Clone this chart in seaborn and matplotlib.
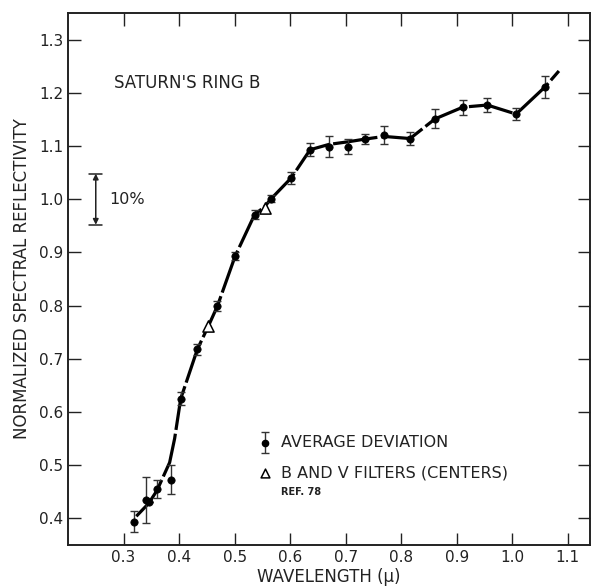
import matplotlib
matplotlib.use("Agg")
import matplotlib.pyplot as plt
import seaborn as sns
import pandas as pd

# ---- data ----
pts_x = [0.318, 0.340, 0.346, 0.360, 0.385, 0.403, 0.433, 0.469, 0.501, 0.536,
         0.566, 0.602, 0.636, 0.670, 0.705, 0.735, 0.769, 0.816, 0.861, 0.911,
         0.955, 1.007, 1.059]
pts_y = [0.394, 0.434, 0.430, 0.456, 0.473, 0.625, 0.718, 0.799, 0.893, 0.971,
         1.001, 1.040, 1.093, 1.099, 1.099, 1.113, 1.121, 1.114, 1.151, 1.173,
         1.177, 1.160, 1.211]
pts_err = [0.020, 0.043, 0.0, 0.017, 0.027, 0.012, 0.010, 0.009, 0.008, 0.008,
           0.006, 0.012, 0.012, 0.020, 0.014, 0.010, 0.017, 0.012, 0.018, 0.014,
           0.013, 0.012, 0.020]

filter_x = [0.453, 0.554]
filter_y = [0.761, 0.984]

curve_x = [0.323, 0.345, 0.360, 0.383, 0.392, 0.403, 0.433, 0.453, 0.469, 0.501,
           0.536, 0.554, 0.566, 0.602, 0.636, 0.670, 0.705, 0.735, 0.769, 0.816,
           0.861, 0.911, 0.955, 1.007, 1.059, 1.084]
curve_y = [0.404, 0.428, 0.452, 0.505, 0.550, 0.625, 0.718, 0.762, 0.799, 0.893,
           0.971, 0.986, 1.001, 1.040, 1.093, 1.103, 1.108, 1.113, 1.118, 1.114,
           1.151, 1.173, 1.177, 1.160, 1.211, 1.241]

x_ticks = [0.3, 0.4, 0.5, 0.6, 0.7, 0.8, 0.9, 1.0, 1.1]
x_ticklabels = ["0.3", "0.4", "0.5", "0.6", "0.7", "0.8", "0.9", "1.0", "1.1"]
y_ticks = [0.4, 0.5, 0.6, 0.7, 0.8, 0.9, 1.0, 1.1, 1.2, 1.3]
y_ticklabels = ["0.4", "0.5", "0.6", "0.7", "0.8", "0.9", "1.0", "1.1", "1.2", "1.3"]

sns.set_theme(style="ticks")
plt.rcParams['font.family'] = ['DejaVu Sans']

fig = plt.figure(figsize=(5.98, 5.88), dpi=100)
ax = fig.add_axes([68/598, 1-545/588, (590-68)/598, (545-13)/588])

curve_df = pd.DataFrame({"x": curve_x, "y": curve_y})
pts_df = pd.DataFrame({"x": pts_x, "y": pts_y})
flt_df = pd.DataFrame({"x": filter_x, "y": filter_y})

sns.lineplot(data=curve_df, x="x", y="y", ax=ax, color="black", lw=2.3,
             linestyle=(0, (14, 1.2)), sort=False, estimator=None)
ax.errorbar(pts_x, pts_y, yerr=pts_err, fmt="none", ecolor="#333333",
            elinewidth=1.0, capsize=2.8, capthick=1.0, zorder=3)
sns.scatterplot(data=pts_df, x="x", y="y", ax=ax, color="black", s=28,
                edgecolor="black", linewidth=0.5, zorder=4)
sns.scatterplot(data=flt_df, x="x", y="y", ax=ax, marker="^", s=65,
                facecolor="white", edgecolor="black", linewidth=1.1, zorder=5)

ax.set_xlim(0.2, 1.14)
ax.set_ylim(0.35, 1.35)
ax.set_xticks(x_ticks)
ax.set_xticklabels(x_ticklabels)
ax.set_yticks(y_ticks)
ax.set_yticklabels(y_ticklabels)
ax.tick_params(direction="in", length=9, width=1.0, top=True, right=True,
               labelsize=11, pad=3.5, color="#222222", labelcolor="#222222")
for sp in ax.spines.values():
    sp.set_linewidth(1.4)
    sp.set_color("#222222")

ax.set_xlabel("WAVELENGTH (μ)", fontsize=12, labelpad=2, color="#222222")
ax.set_ylabel("NORMALIZED SPECTRAL REFLECTIVITY", fontsize=12, labelpad=6,
              color="#222222")

ax.text(0.283, 1.218, "SATURN'S RING B", fontsize=12, ha="left", va="center",
        color="#222222")

# 10% scale bar
ax.annotate("", xy=(0.25, 0.952), xytext=(0.25, 1.048),
            arrowprops=dict(arrowstyle="<|-|>", color="#222222", lw=1.1,
                            mutation_scale=8, shrinkA=0, shrinkB=0))
ax.plot([0.238, 0.262], [1.048, 1.048], color="#222222", lw=1.1)
ax.plot([0.238, 0.262], [0.952, 0.952], color="#222222", lw=1.1)
ax.text(0.275, 1.0, "10%", fontsize=11.5, ha="left", va="center", color="#222222")

# legend drawn manually
ax.errorbar([0.555], [0.542], yerr=[0.02], fmt="o", color="black", ms=4.5,
            ecolor="#333333", elinewidth=1.0, capsize=2.8, capthick=1.0)
ax.text(0.584, 0.542, "AVERAGE DEVIATION", fontsize=11.5, ha="left",
        va="center", color="#222222")
ax.scatter([0.555], [0.486], marker="^", s=40, facecolor="white",
           edgecolor="black", linewidth=1.1)
ax.text(0.584, 0.486, "B AND V FILTERS (CENTERS)", fontsize=11.5, ha="left",
        va="center", color="#222222")
ax.text(0.584, 0.450, "REF. 78", fontsize=7, ha="left", va="center",
        color="#222222", fontweight="bold")

fig.savefig("out.png", dpi=100)
